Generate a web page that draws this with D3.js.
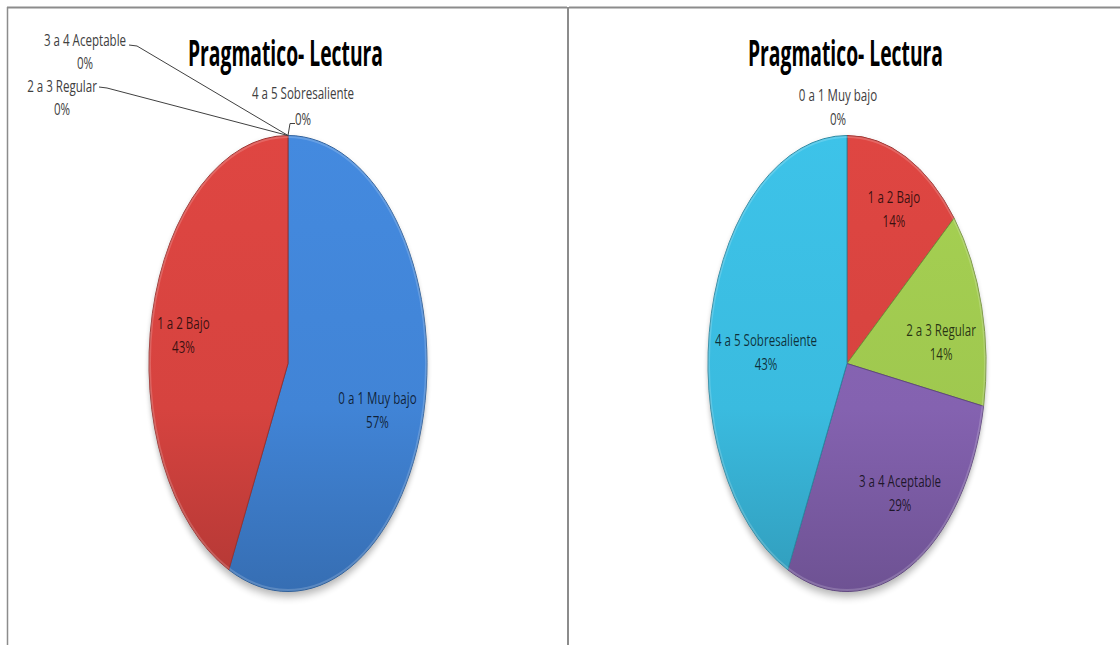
<!DOCTYPE html>
<html><head><meta charset="utf-8">
<script src="https://cdn.jsdelivr.net/npm/d3@7"></script>
<style>html,body{margin:0;padding:0;background:#fff;} svg{display:block;}</style>
</head><body>
<svg id="chart" width="1120" height="645"></svg>
<script>
// ---- data ----
const categories = ["0 a 1 Muy bajo","1 a 2 Bajo","2 a 3 Regular","3 a 4 Aceptable","4 a 5 Sobresaliente"];
const leftValues = [57,43,0,0,0];
const rightValues = [0,14,14,29,43];
const chartTitles = ["Pragmatico- Lectura","Pragmatico- Lectura"];

// ---- styles / layout ----
const sliceColors = ["#4184d6","#d6433f","#9fc84f","#8462b0","#3abbdf"];
const FONT = "'Open Sans', 'Liberation Sans', sans-serif";
const LABEL_SIZE = 17;
const SQUISH = 0.68;
const panels = [
  {values: leftValues, title: chartTitles[0], cx: 288, cy: 363.5, rx: 139, ry: 228, titleX: 285.5,
   // inside label placement: [angle offset from slice mid (deg), radius fraction]
   inside: [[7.1,0.684],[-5.0,0.759],null,null,null],
   // outside labels for empty slices: [centerX, baselineY, leader polyline (ends at slice start point)]
   outside: [null,null,
     {x:62, y:92, leader:[[99,87],[107,88]], pctDy:23},
     {x:85, y:46, leader:[[129,45],[137,46]], pctDy:23},
     {x:303, y:99, leader:[[295,123.5],[290,123.5]], pctDy:26}]},
  {values: rightValues, title: chartTitles[1], cx: 847, cy: 363.5, rx: 139, ry: 228, titleX: 845.5,
   inside: [null,[2.3,0.732],[8.7,0.68],[-5.7,0.706],[-10.4,0.583]],
   outside: [{x:838, y:101, leader:null}, null, null, null, null]}
];

const svg = d3.select("#chart");
const defs = svg.append("defs");

// shadow filter
const f = defs.append("filter").attr("id","shadow").attr("x","-20%").attr("y","-20%").attr("width","140%").attr("height","140%");
f.append("feGaussianBlur").attr("in","SourceAlpha").attr("stdDeviation",4);
f.append("feOffset").attr("dx",0).attr("dy",5).attr("result","b");
f.append("feComponentTransfer").append("feFuncA").attr("type","linear").attr("slope",0.3);

// panel frames
const frame = svg.append("g").attr("stroke","#8c8c8c").attr("fill","none");
frame.append("line").attr("x1",7).attr("x2",567).attr("y1",7.5).attr("y2",7.5).attr("stroke-width",2);
frame.append("line").attr("x1",7.5).attr("x2",7.5).attr("y1",7).attr("y2",645).attr("stroke-width",1.5);
frame.append("line").attr("x1",568).attr("x2",568).attr("y1",7).attr("y2",645).attr("stroke-width",2);
frame.append("line").attr("x1",569).attr("x2",1120).attr("y1",7.5).attr("y2",7.5).attr("stroke-width",2);

function squish(sel, factor){
  sel.each(function(){
    const w = this.getComputedTextLength();
    d3.select(this).attr("textLength", w*factor).attr("lengthAdjust","spacingAndGlyphs");
  });
}

const pie = d3.pie().sort(null).value(d => d);

panels.forEach((p, pi) => {
  const R = p.ry;
  const arcs = pie(p.values);
  const arc = d3.arc().innerRadius(0).outerRadius(R);

  // gradients per category
  sliceColors.forEach((c, i) => {
    const g = defs.append("linearGradient").attr("id", `g${pi}_${i}`)
      .attr("gradientUnits","userSpaceOnUse").attr("x1",0).attr("x2",0).attr("y1",-R).attr("y2",R);
    g.append("stop").attr("offset","0%").attr("stop-color", d3.color(c).brighter(0.12));
    g.append("stop").attr("offset","60%").attr("stop-color", c);
    g.append("stop").attr("offset","100%").attr("stop-color", d3.color(c).darker(0.5));
  });

  const g = svg.append("g").attr("transform", `translate(${p.cx},${p.cy}) scale(${p.rx/R},1)`);
  g.append("circle").attr("r", R).attr("fill","#000").attr("filter","url(#shadow)");
  g.selectAll("path.slice").data(arcs.filter(d => d.value > 0)).join("path")
    .attr("class","slice")
    .attr("d", arc)
    .attr("fill", d => `url(#g${pi}_${d.index})`)
    .attr("stroke", d => d3.color(sliceColors[d.index]).darker(0.9))
    .attr("stroke-width", 1)
    .attr("vector-effect","non-scaling-stroke");
  // soft bevel rim
  g.append("circle").attr("r", R-1.5).attr("fill","none")
    .attr("stroke","rgba(255,255,255,0.18)").attr("stroke-width",2).attr("vector-effect","non-scaling-stroke");

  // title
  const t = svg.append("text").attr("x", p.titleX).attr("y", 66).attr("text-anchor","middle")
    .attr("font-family", FONT).attr("font-weight","bold").attr("font-size", 36).attr("fill","#000")
    .text(p.title);
  t.attr("textLength", 195).attr("lengthAdjust","spacingAndGlyphs");

  // inside labels
  arcs.forEach((d, i) => {
    const pl = p.inside[i];
    if (!pl || d.value <= 0) return;
    const a = (d.startAngle + d.endAngle)/2 + pl[0]*Math.PI/180;
    const x = p.cx + p.rx*pl[1]*Math.sin(a);
    const y = p.cy - p.ry*pl[1]*Math.cos(a);
    const lg = svg.append("g").attr("font-family", FONT).attr("font-size", LABEL_SIZE)
      .attr("fill","#000").attr("fill-opacity",0.75).attr("text-anchor","middle");
    lg.append("text").attr("x", x).attr("y", y-12).text(categories[i]);
    lg.append("text").attr("x", x).attr("y", y+12).text(Math.round(d.value) + "%");
    squish(lg.selectAll("text"), SQUISH);
  });

  // outside labels (empty slices)
  arcs.forEach((d, i) => {
    const o = p.outside[i];
    if (!o) return;
    const lg = svg.append("g").attr("font-family", FONT).attr("font-size", LABEL_SIZE)
      .attr("fill","#404040").attr("text-anchor","middle");
    lg.append("text").attr("x", o.x).attr("y", o.y).text(categories[i]);
    lg.append("text").attr("x", o.x).attr("y", o.y + (o.pctDy || 24)).text(Math.round(d.value) + "%");
    squish(lg.selectAll("text"), SQUISH);
    if (o.leader) {
      const sx = p.cx + p.rx*Math.sin(d.startAngle);
      const sy = p.cy - p.ry*Math.cos(d.startAngle);
      const pts = o.leader.concat([[sx, sy]]);
      svg.append("path").attr("d", d3.line()(pts)).attr("fill","none")
        .attr("stroke","#404040").attr("stroke-width",1);
    }
  });
});
</script>
</body></html>
